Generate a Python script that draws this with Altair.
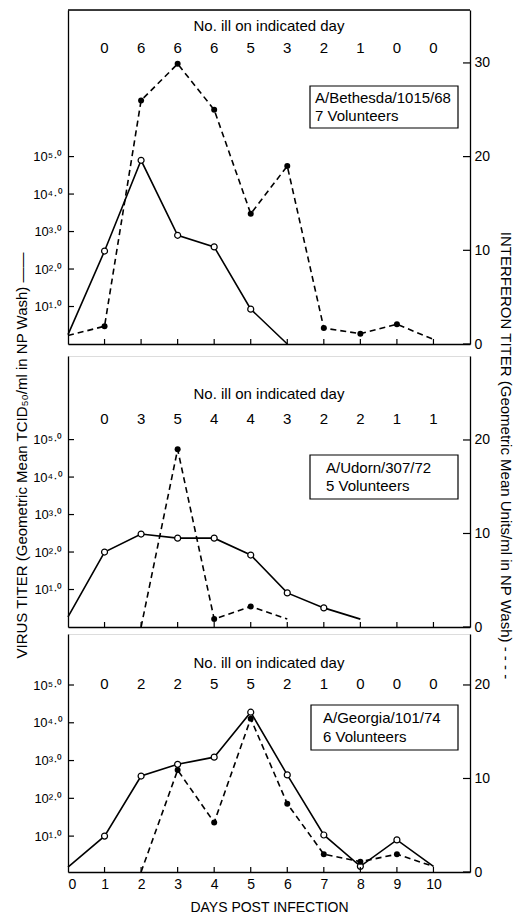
import altair as alt
import pandas as pd

FONT = "Liberation Sans"

# ---------------- data ----------------
# Panel 1: A/Bethesda/1015/68
BETH_VIRUS_DAYS = [0, 1, 2, 3, 4, 5, 6]
BETH_VIRUS = [0.25, 2.48, 4.9, 2.9, 2.59, 0.93, 0.0]          # log10 TCID50/ml
BETH_VIRUS_MARKED = [1, 2, 3, 4, 5]
BETH_IFN_DAYS = [0, 1, 2, 3, 4, 5, 6, 7, 8, 9, 10]
BETH_IFN = [0.9, 1.9, 26.0, 29.9, 25.0, 13.9, 19.0, 1.7, 1.1, 2.1, 0.5]
BETH_IFN_MARKED = [1, 2, 3, 4, 5, 6, 7, 8, 9]
BETH_ILL = [0, 6, 6, 6, 5, 3, 2, 1, 0, 0]

# Panel 2: A/Udorn/307/72
UD_VIRUS_DAYS = [0, 1, 2, 3, 4, 5, 6, 7, 8]
UD_VIRUS = [0.27, 2.0, 2.48, 2.37, 2.37, 1.92, 0.91, 0.51, 0.21]
UD_VIRUS_MARKED = [1, 2, 3, 4, 5, 6, 7]
UD_IFN_DAYS = [2, 3, 4, 5, 6]
UD_IFN = [0.0, 19.0, 0.85, 2.2, 0.85]
UD_IFN_MARKED = [3, 4, 5]
UD_ILL = [0, 3, 5, 4, 4, 3, 2, 2, 1, 1]

# Panel 3: A/Georgia/101/74
GA_VIRUS_DAYS = [0, 1, 2, 3, 4, 5, 6, 7, 8, 9, 10]
GA_VIRUS = [0.18, 1.0, 2.59, 2.9, 3.09, 4.28, 2.62, 1.03, 0.2, 0.9, 0.2]
GA_VIRUS_MARKED = [1, 2, 3, 4, 5, 6, 7, 8, 9]
GA_IFN_DAYS = [2, 3, 4, 5, 6, 7, 8, 9, 10]
GA_IFN = [0.0, 10.9, 5.3, 16.4, 7.3, 1.9, 1.1, 1.9, 0.6]
GA_IFN_MARKED = [3, 4, 5, 6, 7, 8, 9]
GA_ILL = [0, 2, 2, 5, 5, 2, 1, 0, 0, 0]

ILL_DAYS = [1, 2, 3, 4, 5, 6, 7, 8, 9, 10]
X_TICKS = [1, 2, 3, 4, 5, 6, 7, 8, 9, 10]
VIRUS_TICKS = [1, 2, 3, 4, 5]

W = 402
XSCALE = alt.Scale(domain=[0, 11], nice=False, zero=False)

SUP = "['⁰','¹','²','³','⁴','⁵','⁶','⁷','⁸','⁹']"
LEFT_TITLE = "VIRUS TITER  (Geometric Mean TCID₅₀/ml in NP Wash)  ——"
RIGHT_TITLE = "INTERFERON TITER  (Geometric Mean Units/ml in NP Wash)  - - - -"
TXT = 15


def panel(vdays, vvals, vmarked, idays, ivals, imarked, ill, H, vdom, idom,
          ifn_ticks, header_y, count_y, box, text_x, lines,
          top_border=False, x_labels=False, titles=False):
    vdf = pd.DataFrame({"day": vdays, "v": vvals})
    vdf["m"] = vdf["day"].isin(vmarked)
    idf = pd.DataFrame({"day": idays, "i": ivals})
    idf["m"] = idf["day"].isin(imarked)
    vscale = alt.Scale(domain=vdom, nice=False, zero=False)
    iscale = alt.Scale(domain=idom, nice=False, zero=False)

    if x_labels:
        xaxis = alt.Axis(values=list(range(11)), ticks=False, domain=True, domainColor="black",
                         domainWidth=1.3, labelFontSize=14, labelPadding=5, labelColor="black",
                         title="DAYS POST INFECTION", titleFontSize=14, titleFontWeight="normal",
                         titlePadding=9, titleColor="black", grid=False)
    else:
        xaxis = alt.Axis(labels=False, ticks=False, domain=True, domainColor="black",
                         domainWidth=1.3, title=None, grid=False)

    vaxis_kw = dict(orient="left", values=VIRUS_TICKS, ticks=False, domain=True,
                    domainColor="black", domainWidth=1.3, grid=False, labelFontSize=13,
                    labelPadding=6, labelColor="black",
                    labelExpr="'10' + " + SUP + "[datum.value] + '·⁰'")
    if titles:
        vaxis_kw.update(title=LEFT_TITLE, titleFontSize=15, titleFontWeight="normal",
                        titleColor="black", titleX=-47, titleY=99, titleBaseline="middle",
                        titleAlign="center", titleAngle=270)
    else:
        vaxis_kw.update(title=None)
    vaxis = alt.Axis(**vaxis_kw)

    iaxis_kw = dict(orient="right", values=ifn_ticks, ticks=False, domain=True,
                    domainColor="black", domainWidth=1.3, grid=False, labelFontSize=14,
                    labelPadding=4, labelColor="black")
    if titles:
        iaxis_kw.update(title=RIGHT_TITLE, titleFontSize=15, titleFontWeight="normal",
                        titleColor="black", titleX=35, titleY=99, titleBaseline="middle",
                        titleAlign="center", titleAngle=90)
    else:
        iaxis_kw.update(title=None)
    iaxis = alt.Axis(**iaxis_kw)

    base_v = alt.Chart(vdf)
    vline = base_v.mark_line(color="black", strokeWidth=1.6).encode(
        x=alt.X("day:Q", scale=XSCALE, axis=xaxis),
        y=alt.Y("v:Q", scale=vscale, axis=vaxis),
    )
    vpts = base_v.transform_filter("datum.m").mark_point(
        shape="circle", filled=True, fill="white", stroke="black", strokeWidth=1.2,
        size=36, opacity=1).encode(
        x=alt.X("day:Q", scale=XSCALE),
        y=alt.Y("v:Q", scale=vscale),
    )
    vticks = alt.Chart(pd.DataFrame({"t": VIRUS_TICKS})).mark_rule(
        color="black", strokeWidth=1.2).encode(
        y=alt.Y("t:Q", scale=vscale), x=alt.value(0), x2=alt.value(6))
    xticks = alt.Chart(pd.DataFrame({"d": X_TICKS})).mark_rule(
        color="black", strokeWidth=1.2).encode(
        x=alt.X("d:Q", scale=XSCALE), y=alt.value(H - 5), y2=alt.value(H))
    left_layers = [vline, vpts, vticks, xticks]
    if top_border:
        left_layers.append(
            alt.Chart(pd.DataFrame({"a": [0]})).mark_rule(color="black", strokeWidth=1.3).encode(
                x=alt.value(0), x2=alt.value(W), y=alt.value(0)))
    left = alt.layer(*left_layers)

    base_i = alt.Chart(idf)
    iline = base_i.mark_line(color="black", strokeWidth=1.6, strokeDash=[6, 4]).encode(
        x=alt.X("day:Q", scale=XSCALE),
        y=alt.Y("i:Q", scale=iscale, axis=iaxis),
    )
    ipts = base_i.transform_filter("datum.m").mark_circle(
        color="black", size=36, opacity=1).encode(
        x=alt.X("day:Q", scale=XSCALE),
        y=alt.Y("i:Q", scale=iscale),
    )
    iticks = alt.Chart(pd.DataFrame({"t": ifn_ticks})).mark_rule(
        color="black", strokeWidth=1.2).encode(
        y=alt.Y("t:Q", scale=iscale), x=alt.value(W - 7), x2=alt.value(W))

    ill_df = pd.DataFrame({"day": ILL_DAYS, "n": ill})
    counts = alt.Chart(ill_df).mark_text(font=FONT, fontSize=TXT, color="black",
                                         baseline="middle", align="center").encode(
        x=alt.X("day:Q", scale=XSCALE), y=alt.value(count_y), text="n:Q")
    header = alt.Chart(pd.DataFrame({"t": ["No. ill on indicated day"]})).mark_text(
        font=FONT, fontSize=TXT, color="black", baseline="middle", align="center").encode(
        x=alt.value(W / 2), y=alt.value(header_y), text="t:N")
    bx0, bx1, by0, by1 = box
    rect = alt.Chart(pd.DataFrame({"a": [0]})).mark_rect(
        fillOpacity=0, stroke="black", strokeWidth=1.2).encode(
        x=alt.value(bx0), x2=alt.value(bx1), y=alt.value(by0), y2=alt.value(by1))
    lab1 = alt.Chart(pd.DataFrame({"t": [lines[0]]})).mark_text(
        font=FONT, fontSize=TXT, color="black", align="left", baseline="middle").encode(
        x=alt.value(text_x), y=alt.value(by0 + (by1 - by0) * 0.29), text="t:N")
    lab2 = alt.Chart(pd.DataFrame({"t": [lines[1]]})).mark_text(
        font=FONT, fontSize=TXT, color="black", align="left", baseline="middle").encode(
        x=alt.value(text_x), y=alt.value(by0 + (by1 - by0) * 0.71), text="t:N")

    right = alt.layer(iline, ipts, iticks, counts, header, rect, lab1, lab2)
    return alt.layer(left, right).resolve_scale(y="independent").properties(width=W, height=H)


p1 = panel(BETH_VIRUS_DAYS, BETH_VIRUS, BETH_VIRUS_MARKED, BETH_IFN_DAYS, BETH_IFN,
           BETH_IFN_MARKED, BETH_ILL, 334, [0, 8.91], [0, 35.65], [0, 10, 20, 30],
           16, 38, (242, 390, 76, 118), 247, ["A/Bethesda/1015/68", "7 Volunteers"],
           top_border=True)
p2 = panel(UD_VIRUS_DAYS, UD_VIRUS, UD_VIRUS_MARKED, UD_IFN_DAYS, UD_IFN,
           UD_IFN_MARKED, UD_ILL, 271, [0, 7.23], [0, 28.98], [0, 10, 20],
           38, 63, (242, 390, 99, 143), 258, ["A/Udorn/307/72", "5 Volunteers"],
           titles=True)
p3 = panel(GA_VIRUS_DAYS, GA_VIRUS, GA_VIRUS_MARKED, GA_IFN_DAYS, GA_IFN,
           GA_IFN_MARKED, GA_ILL, 238, [0.05, 6.35], [0, 25.45], [0, 10, 20],
           29, 50, (243, 390, 71, 116), 255, ["A/Georgia/101/74", "6 Volunteers"],
           x_labels=True)

chart = alt.vconcat(
    p1,
    alt.vconcat(p2, p3, spacing=7, bounds="flush"),
    spacing=12, bounds="flush",
).properties(
    padding={"left": 5, "top": 0, "right": 0, "bottom": 0}
).configure_view(stroke=None).configure(font=FONT)

chart.save("out.html", embed_options={"renderer": "svg", "actions": False})
